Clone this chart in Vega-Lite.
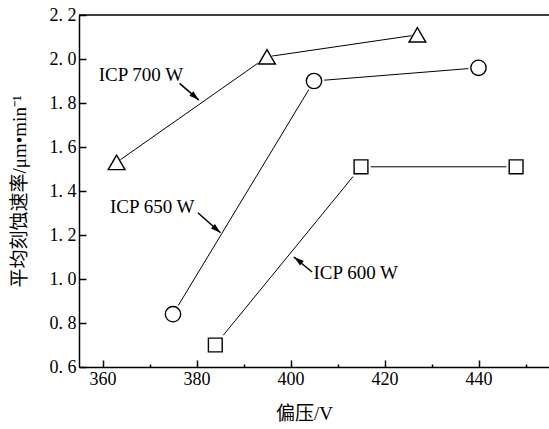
{
  "$schema": "https://vega.github.io/schema/vega-lite/v6.json",
  "width": 470,
  "height": 352,
  "autosize": "none",
  "padding": {"left": 79, "top": 15, "right": 0, "bottom": 62},
  "background": "white",
  "config": {
    "view": {"stroke": null},
    "font": "Liberation Serif, Noto Sans CJK SC"
  },
  "datasets": {
    "points": [
      {"series": "ICP 700 W", "bias": 363, "rate": 1.53},
      {"series": "ICP 700 W", "bias": 395, "rate": 2.01},
      {"series": "ICP 700 W", "bias": 427, "rate": 2.11},
      {"series": "ICP 650 W", "bias": 375, "rate": 0.84},
      {"series": "ICP 650 W", "bias": 405, "rate": 1.90},
      {"series": "ICP 650 W", "bias": 440, "rate": 1.96},
      {"series": "ICP 600 W", "bias": 384, "rate": 0.70},
      {"series": "ICP 600 W", "bias": 415, "rate": 1.51},
      {"series": "ICP 600 W", "bias": 448, "rate": 1.51}
    ],
    "labels": [
      {"series": "ICP 700 W", "bias": 359.2, "rate": 1.90, "bias_tail": 376.4, "rate_tail": 1.889, "bias_tip": 380.5, "rate_tip": 1.813, "bias_head": 379.7, "rate_head": 1.828},
      {"series": "ICP 650 W", "bias": 361.6, "rate": 1.298, "bias_tail": 380.3, "rate_tail": 1.301, "bias_tip": 385.1, "rate_tip": 1.21, "bias_head": 384.3, "rate_head": 1.225},
      {"series": "ICP 600 W", "bias": 404.9, "rate": 1.002, "bias_tail": 404.6, "rate_tail": 1.032, "bias_tip": 400.7, "rate_tip": 1.10, "bias_head": 401.6, "rate_head": 1.086}
    ]
  },
  "resolve": {"scale": {"size": "independent"}},
  "layer": [
    {
      "data": {"values": [{"top": 2.2}]},
      "mark": {"type": "rule", "color": "black", "strokeWidth": 1.5},
      "encoding": {"y": {"field": "top", "type": "quantitative", "scale": {"domain": [0.6, 2.2], "nice": false, "zero": false}}}
    },
    {
      "data": {"name": "points"},
      "mark": {"type": "line", "color": "black", "strokeWidth": 1},
      "encoding": {
        "x": {
          "field": "bias", "type": "quantitative",
          "scale": {"domain": [355, 455], "nice": false, "zero": false},
          "axis": {
            "title": "偏压/V",
            "values": [360, 370, 380, 390, 400, 410, 420, 430, 440, 450],
            "labelExpr": "datum.value % 20 === 0 ? datum.value : ''",
            "tickSize": {"condition": {"test": "datum.value % 20 === 0", "value": -7}, "value": -3},
            "tickColor": "black", "tickWidth": 1.5,
            "domainColor": "black", "domainWidth": 1.5,
            "grid": false,
            "labelFontSize": 18, "labelColor": "black", "labelPadding": 10,
            "titleFontSize": 19, "titleColor": "black", "titleFontWeight": "normal", "titlePadding": 16,
            "titleX": 225
          }
        },
        "y": {
          "field": "rate", "type": "quantitative",
          "scale": {"domain": [0.6, 2.2], "nice": false, "zero": false},
          "axis": {
            "title": "平均刻蚀速率/μm•min⁻¹",
            "values": [0.6, 0.7, 0.8, 0.9, 1.0, 1.1, 1.2, 1.3, 1.4, 1.5, 1.6, 1.7, 1.8, 1.9, 2.0, 2.1, 2.2],
            "labelExpr": "round(datum.value * 10) % 2 === 0 ? replace(format(datum.value, '.1f'), '.', '. ') : ''",
            "tickSize": {"condition": {"test": "round(datum.value * 10) % 2 === 0", "value": -7}, "value": -3},
            "tickColor": "black", "tickWidth": 1.5,
            "domainColor": "black", "domainWidth": 1.5,
            "grid": false,
            "labelFontSize": 18, "labelColor": "black", "labelPadding": 10,
            "titleFontSize": 19, "titleColor": "black", "titleFontWeight": "normal", "titlePadding": 20
          }
        },
        "detail": {"field": "series"}
      }
    },
    {
      "data": {"name": "points"},
      "mark": {"type": "point", "filled": true, "color": "white", "opacity": 1},
      "encoding": {
        "x": {"field": "bias", "type": "quantitative"},
        "y": {"field": "rate", "type": "quantitative"},
        "shape": {"field": "series", "type": "nominal", "scale": {"domain": ["ICP 700 W", "ICP 650 W", "ICP 600 W"], "range": ["triangle-up", "circle", "square"]}, "legend": null},
        "size": {"field": "series", "type": "nominal", "scale": {"domain": ["ICP 700 W", "ICP 650 W", "ICP 600 W"], "range": [480, 380, 320]}, "legend": null}
      }
    },
    {
      "data": {"name": "points"},
      "mark": {"type": "point", "filled": false, "fill": "white", "fillOpacity": 1, "stroke": "black", "strokeWidth": 1.4, "opacity": 1},
      "encoding": {
        "x": {"field": "bias", "type": "quantitative"},
        "y": {"field": "rate", "type": "quantitative"},
        "shape": {"field": "series", "type": "nominal", "legend": null},
        "size": {"field": "series", "type": "nominal", "scale": {"domain": ["ICP 700 W", "ICP 650 W", "ICP 600 W"], "range": [280, 190, 150]}, "legend": null}
      }
    },
    {
      "data": {"name": "labels"},
      "mark": {"type": "rule", "color": "black", "strokeWidth": 1.5},
      "encoding": {
        "x": {"field": "bias_tail", "type": "quantitative"},
        "y": {"field": "rate_tail", "type": "quantitative"},
        "x2": {"field": "bias_tip"},
        "y2": {"field": "rate_tip"}
      }
    },
    {
      "data": {"name": "labels"},
      "transform": [{"filter": "datum.series === 'ICP 700 W'"}],
      "mark": {"type": "point", "shape": "M0,-1L0.6,1L-0.6,1Z", "filled": true, "color": "black", "opacity": 1, "size": 100, "angle": 131},
      "encoding": {
        "x": {"field": "bias_head", "type": "quantitative"},
        "y": {"field": "rate_head", "type": "quantitative"}
      }
    },
    {
      "data": {"name": "labels"},
      "transform": [{"filter": "datum.series === 'ICP 650 W'"}],
      "mark": {"type": "point", "shape": "M0,-1L0.6,1L-0.6,1Z", "filled": true, "color": "black", "opacity": 1, "size": 100, "angle": 131},
      "encoding": {
        "x": {"field": "bias_head", "type": "quantitative"},
        "y": {"field": "rate_head", "type": "quantitative"}
      }
    },
    {
      "data": {"name": "labels"},
      "transform": [{"filter": "datum.series === 'ICP 600 W'"}],
      "mark": {"type": "point", "shape": "M0,-1L0.6,1L-0.6,1Z", "filled": true, "color": "black", "opacity": 1, "size": 100, "angle": 309},
      "encoding": {
        "x": {"field": "bias_head", "type": "quantitative"},
        "y": {"field": "rate_head", "type": "quantitative"}
      }
    },
    {
      "data": {"name": "labels"},
      "mark": {"type": "text", "align": "left", "baseline": "alphabetic", "fontSize": 19, "color": "black"},
      "encoding": {
        "x": {"field": "bias", "type": "quantitative"},
        "y": {"field": "rate", "type": "quantitative"},
        "text": {"field": "series"}
      }
    }
  ]
}
